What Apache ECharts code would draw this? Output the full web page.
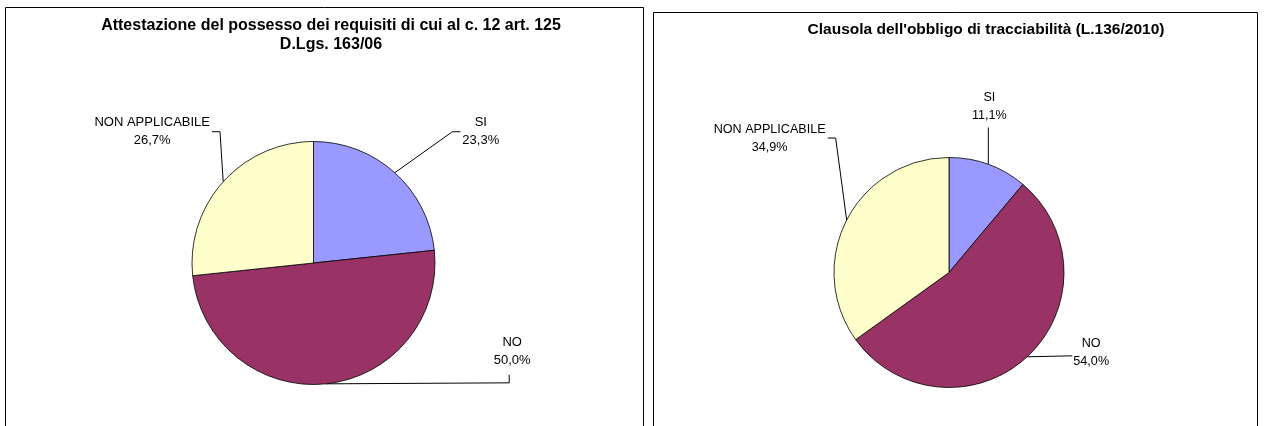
<!DOCTYPE html>
<html>
<head>
<meta charset="utf-8">
<script src="https://cdn.jsdelivr.net/npm/echarts@6/dist/echarts.min.js"></script>
<style>
  html, body { margin: 0; padding: 0; background: #ffffff; }
  #chart { width: 1264px; height: 426px; }
</style>
</head>
<body>
<div id="chart"></div>
<script>
// Survey answers per question (counts of contracts)
const categories = ['SI', 'NO', 'NON APPLICABILE'];
const requisitiCounts = [7, 15, 8];
const tracciabilitaCounts = [7, 34, 22];

const requisitiTitle = 'Attestazione del possesso dei requisiti di cui al c. 12 art. 125\nD.Lgs. 163/06';
const tracciabilitaTitle = "Clausola dell'obbligo di tracciabilità (L.136/2010)";

const sliceColors = ['#9999FF', '#993366', '#FFFFCC'];
const FONT = '"Liberation Sans", Arial, sans-serif';

// Where each label sits relative to its slice's leader anchor, and how the leader bends
const requisitiLabelPlacement = [
  { dx: 86, dy: -41, guide: 'toLeftSide' },
  { dx: 186, dy: -32, guide: 'toBottom' },
  { dx: -71, dy: -50, guide: 'toRightSide' }
];
const tracciabilitaLabelPlacement = [
  { dx: 1, dy: -58, guide: 'vertical' },
  { dx: 64, dy: -4, guide: 'straight' },
  { dx: -77, dy: -82, guide: 'toRightSide' }
];

function formatPercent(p) {
  return p.toFixed(1).replace('.', ',') + '%';
}

function makeLabelLayout(placement) {
  return function (params) {
    const pts = params.labelLinePoints;
    if (!pts) return {};
    const anchor = pts[0];
    const pl = placement[params.dataIndex];
    const cx = anchor[0] + pl.dx;
    const cy = anchor[1] + pl.dy;
    const w = params.labelRect.width;
    const h = params.labelRect.height;
    const L = cx - w / 2, R = cx + w / 2, B = cy + h / 2;
    let line;
    if (pl.guide === 'toLeftSide') {
      line = [anchor, [L - 10, cy], [L - 2, cy]];
    } else if (pl.guide === 'toRightSide') {
      line = [anchor, [R + 10, cy], [R + 2, cy]];
    } else if (pl.guide === 'toBottom') {
      line = [anchor, [cx - 3, anchor[1] - 1], [cx - 3, B + 5]];
    } else if (pl.guide === 'vertical') {
      line = [anchor, [anchor[0], B + 3]];
    } else {
      line = [anchor, [L - 1, anchor[1] - 1]];
    }
    return {
      x: cx,
      y: cy,
      align: 'center',
      verticalAlign: 'middle',
      labelLinePoints: line
    };
  };
}

function pieSeries(counts, center, radius, placement, fontSize) {
  return {
    type: 'pie',
    center: center,
    radius: radius,
    startAngle: 90,
    clockwise: true,
    animation: false,
    silent: true,
    avoidLabelOverlap: false,
    percentPrecision: 2,
    data: categories.map((name, i) => ({
      name: name,
      value: counts[i],
      itemStyle: { color: sliceColors[i] }
    })),
    itemStyle: { borderColor: '#000000', borderWidth: 0.8 },
    label: {
      show: true,
      position: 'outside',
      color: '#000000',
      fontFamily: FONT,
      fontSize: fontSize,
      lineHeight: 18,
      align: 'center',
      formatter: (p) => p.name + '\n' + formatPercent(p.percent)
    },
    labelLine: {
      show: true,
      length: 10,
      length2: 10,
      lineStyle: { color: '#000000', width: 1 }
    },
    labelLayout: makeLabelLayout(placement),
    emphasis: { disabled: true }
  };
}

const chart = echarts.init(document.getElementById('chart'), null, { renderer: 'canvas' });

chart.setOption({
  backgroundColor: '#ffffff',
  title: [
    {
      text: requisitiTitle,
      left: 326,
      top: 11,
      textAlign: 'center',
      textStyle: {
        fontFamily: FONT, fontSize: 16, fontWeight: 'bold', color: '#000000', lineHeight: 19
      }
    },
    {
      text: tracciabilitaTitle,
      left: 981,
      top: 15,
      textAlign: 'center',
      textStyle: {
        fontFamily: FONT, fontSize: 15.5, fontWeight: 'bold', color: '#000000', lineHeight: 19
      }
    }
  ],
  graphic: [
    {
      type: 'rect',
      shape: { x: 5.5, y: 7.5, width: 638, height: 430 },
      style: { fill: null, stroke: '#000000', lineWidth: 1 },
      silent: true
    },
    {
      type: 'rect',
      shape: { x: 653.5, y: 12.5, width: 604, height: 430 },
      style: { fill: null, stroke: '#000000', lineWidth: 1 },
      silent: true
    }
  ],
  series: [
    pieSeries(requisitiCounts, [313.5, 263], 121.5, requisitiLabelPlacement, 13),
    pieSeries(tracciabilitaCounts, [949, 272.5], 115, tracciabilitaLabelPlacement, 12.6)
  ]
});
</script>
</body>
</html>
